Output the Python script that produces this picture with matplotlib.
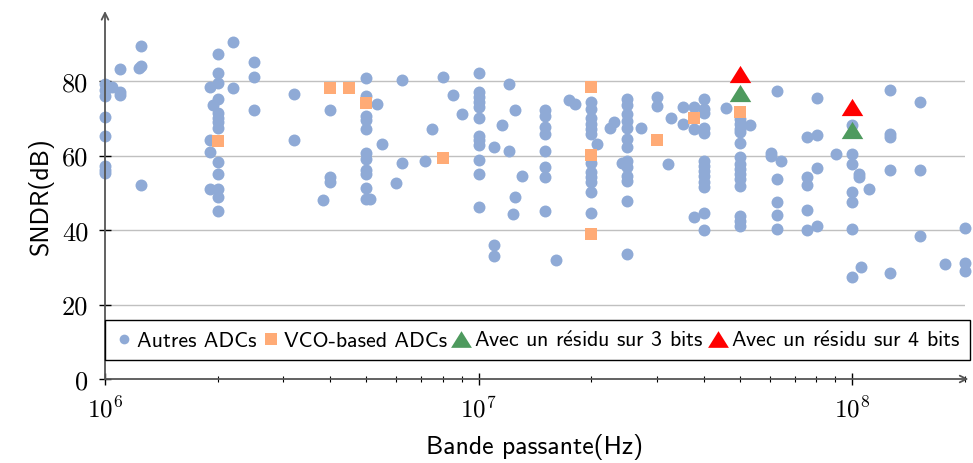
import numpy as np
import matplotlib
matplotlib.use("Agg")
import matplotlib.pyplot as plt
from matplotlib.lines import Line2D
from matplotlib.ticker import FixedLocator, FuncFormatter, LogLocator, NullFormatter

plt.rcParams["font.family"] = ["cmss10", "DejaVu Sans"]
plt.rcParams["mathtext.fontset"] = "cm"
plt.rcParams["axes.unicode_minus"] = False

# Autres ADCs: bandwidth (Hz) and SNDR (dB)
autres_bw = (
    [1e6] * 8 + [1.046e6] + [1.097e6] * 3 + [1.248e6] * 3 + [1.23e6]
    + [2e6] * 13 + [1.95e6] + [1.91e6] * 4 + [2.2e6] * 2 + [2.5e6] * 3
    + [3.2e6] * 2 + [3.84e6] + [4e6] * 3 + [5e6] * 11 + [5.12e6]
    + [5.35e6, 5.51e6, 6.01e6, 6.25e6, 6.25e6, 7.16e6, 7.51e6, 8.02e6, 8.51e6, 9.02e6]
    + [1e7] * 12 + [1.1e7] * 3 + [1.153e7] + [1.204e7] * 2 + [1.253e7] * 2
    + [1.235e7, 1.305e7] + [1.5e7] * 8 + [1.607e7, 1.74e7, 1.806e7]
    + [2e7] * 12 + [2.07e7, 2.25e7, 2.3e7, 2.41e7] + [2.5e7] * 13
    + [2.72e7, 3e7, 3e7, 3.21e7, 3.26e7, 3.52e7, 3.52e7] + [3.77e7] * 3
    + [4e7] * 13 + [4.6e7] + [5e7] * 14 + [5.31e7, 6.04e7, 6.04e7]
    + [6.3e7] * 5 + [6.44e7] + [7.56e7] * 5 + [8.06e7] * 4 + [9.06e7]
    + [1e8] * 7 + [1.04e8, 1.04e8, 1.057e8, 1.106e8] + [1.259e8] * 5
    + [1.514e8] * 3 + [1.767e8] + [2e8] * 3
)
autres_sndr = (
    [79.2, 77.5, 75.9, 70.3, 65.2, 57.3, 55.3, 56.0] + [78.3] + [83.2, 77.1, 76.2]
    + [89.3, 84.1, 52.1] + [83.5]
    + [87.3, 82.1, 79.5, 75.2, 71.4, 70.2, 69.1, 67.5, 58.3, 55.0, 51.0, 48.9, 45.2]
    + [73.6] + [78.3, 64.2, 61.0, 51.0] + [90.6, 78.2] + [85.2, 81.2, 72.2]
    + [76.5, 64.2] + [48.0] + [72.2, 54.3, 53.0]
    + [80.7, 75.9, 70.5, 69.6, 67.1, 60.7, 59.1, 56.2, 55.0, 51.2, 48.3] + [48.3]
    + [73.9, 63.2, 52.6, 80.2, 58.1, 58.6, 67.2, 81.2, 76.2, 71.2]
    + [82.2, 77.0, 75.6, 74.3, 73.1, 70.2, 65.3, 64.2, 62.8, 58.9, 55.0, 46.3]
    + [62.2, 36.0, 32.9] + [68.2] + [79.3, 61.1] + [72.2, 48.8]
    + [44.3, 54.4] + [72.2, 70.7, 67.6, 65.8, 61.3, 57.0, 54.1, 45.0]
    + [32.0, 74.9, 73.8]
    + [74.3, 72.5, 70.2, 68.5, 67.1, 65.8, 58.1, 55.5, 54.1, 52.8, 50.1, 44.6]
    + [63.1, 67.5, 69.0, 58.1]
    + [75.3, 73.6, 71.1, 69.3, 67.5, 64.4, 62.2, 58.6, 56.8, 54.6, 53.2, 47.7, 33.6]
    + [67.3, 75.6, 73.4, 57.7, 70.2, 72.9, 68.5] + [72.9, 67.1, 43.4]
    + [75.2, 72.5, 71.4, 67.3, 66.0, 58.6, 57.3, 55.9, 54.6, 53.0, 51.5, 44.6, 40.1]
    + [72.8]
    + [69.8, 68.5, 67.1, 66.2, 63.4, 59.5, 57.7, 56.4, 55.0, 53.7, 51.9, 43.8, 42.5, 41.1]
    + [68.2, 60.8, 60.0] + [77.2, 53.8, 47.5, 44.1, 40.2] + [58.4]
    + [65.1, 54.3, 52.1, 45.4, 40.0] + [75.4, 65.5, 56.6, 41.0] + [60.5]
    + [68.2, 60.4, 57.7, 50.1, 47.4, 40.3, 27.5] + [55.0, 54.1, 30.0, 51.0]
    + [77.7, 65.8, 65.1, 56.1, 28.4] + [74.3, 56.1, 38.5] + [30.9]
    + [40.5, 31.1, 29.1]
)

# VCO-based ADCs
vco_bw = [2e6, 4e6, 4.5e6, 5e6, 8e6, 2e7, 2e7, 2e7, 3e7, 3.77e7, 5e7]
vco_sndr = [64.0, 78.2, 78.0, 74.1, 59.2, 78.3, 60.1, 38.9, 64.2, 70.2, 71.6]

# proposed designs, 3-bit and 4-bit residue
res3_bw = [5e7, 1e8]
res3_sndr = [76.8, 66.9]
res4_bw = [5e7, 1e8]
res4_sndr = [82.0, 72.9]

# cmss10 has no accented glyphs, so the é is built in mathtext
e_acute = r"$\mathsf{\acute{e}}$"
labels = ["Autres ADCs", "VCO-based ADCs",
          f"Avec un r{e_acute}sidu sur 3 bits", f"Avec un r{e_acute}sidu sur 4 bits"]
colors = ["#8FAAD6", "#FFAB76", "#4E9A5E", "#FF0000"]
tri = [(-1, -0.8), (1, -0.8), (0, 0.8)]

fig = plt.figure(figsize=(9.73, 4.64), dpi=100)
ax = fig.add_axes([105 / 973, 1 - 380 / 464, 860 / 973, 368 / 464])

ax.plot(autres_bw, autres_sndr, "o", color=colors[0], ms=8.6, mew=0,
        clip_on=False, zorder=3)
ax.plot(vco_bw, vco_sndr, "s", color=colors[1], ms=9, mew=0,
        clip_on=False, zorder=4)
ax.plot(res3_bw, res3_sndr, marker=tri, ls="none", color=colors[2], ms=15.5,
        mew=0, zorder=5)
ax.plot(res4_bw, res4_sndr, marker=tri, ls="none", color=colors[3], ms=15.5,
        mew=0, zorder=6)

ax.set_xscale("log")
ax.set_xlim(1e6, 2e8)
ax.set_ylim(0, 368 / 3.725)

ax.yaxis.set_major_locator(FixedLocator([0, 20, 40, 60, 80]))
ax.xaxis.set_major_locator(FixedLocator([1e6, 1e7, 1e8]))
ax.xaxis.set_major_formatter(FuncFormatter(lambda v, p: r"$10^{%d}$" % round(np.log10(v))))
ax.xaxis.set_minor_locator(LogLocator(base=10, subs=np.arange(2, 10)))
ax.xaxis.set_minor_formatter(NullFormatter())

for g in [20, 40, 60, 80]:
    ax.axhline(g, color="#c0c0c0", lw=1.0, zorder=1)

for s in ax.spines.values():
    s.set_visible(False)
ax.annotate("", xy=(0, 1.0), xytext=(0, 0), xycoords="axes fraction",
            arrowprops=dict(arrowstyle="->", color="#555555", lw=1.3,
                            shrinkA=0, shrinkB=0, mutation_scale=12))
ax.annotate("", xy=(1.004, 0), xytext=(0, 0), xycoords="axes fraction",
            arrowprops=dict(arrowstyle="->", color="#555555", lw=1.3,
                            shrinkA=0, shrinkB=0, mutation_scale=12))

ax.tick_params(axis="both", which="major", direction="inout", length=8,
               width=1, color="black")
ax.tick_params(axis="x", which="minor", direction="inout", length=5,
               width=0.8, color="black")
ax.tick_params(axis="y", pad=8, labelsize=19)
ax.tick_params(axis="x", pad=8, labelsize=18)
for t in ax.get_yticklabels():
    t.set_fontfamily("cmr10")

ax.set_xlabel("Bande passante(Hz)", fontsize=18.5, labelpad=8)
ax.set_ylabel("SNDR(dB)", fontsize=18.5, labelpad=6)

handles = [
    Line2D([], [], marker="o", ls="none", color=colors[0], ms=7, mew=0),
    Line2D([], [], marker="s", ls="none", color=colors[1], ms=8.5, mew=0),
    Line2D([], [], marker=tri, ls="none", color=colors[2], ms=15, mew=0),
    Line2D([], [], marker=tri, ls="none", color=colors[3], ms=15, mew=0),
]
leg = ax.legend(handles, labels, loc="center left", ncol=4,
                bbox_to_anchor=(0, 10.5), bbox_transform=ax.get_yaxis_transform(),
                fontsize=15.8, frameon=True, fancybox=False, framealpha=1,
                edgecolor="black", borderaxespad=0, borderpad=0.45,
                handlelength=0.8, handletextpad=0.2, columnspacing=0.25)
leg.get_frame().set_linewidth(1.0)
leg.set_zorder(10)

fig.savefig("out.png", dpi=100)
